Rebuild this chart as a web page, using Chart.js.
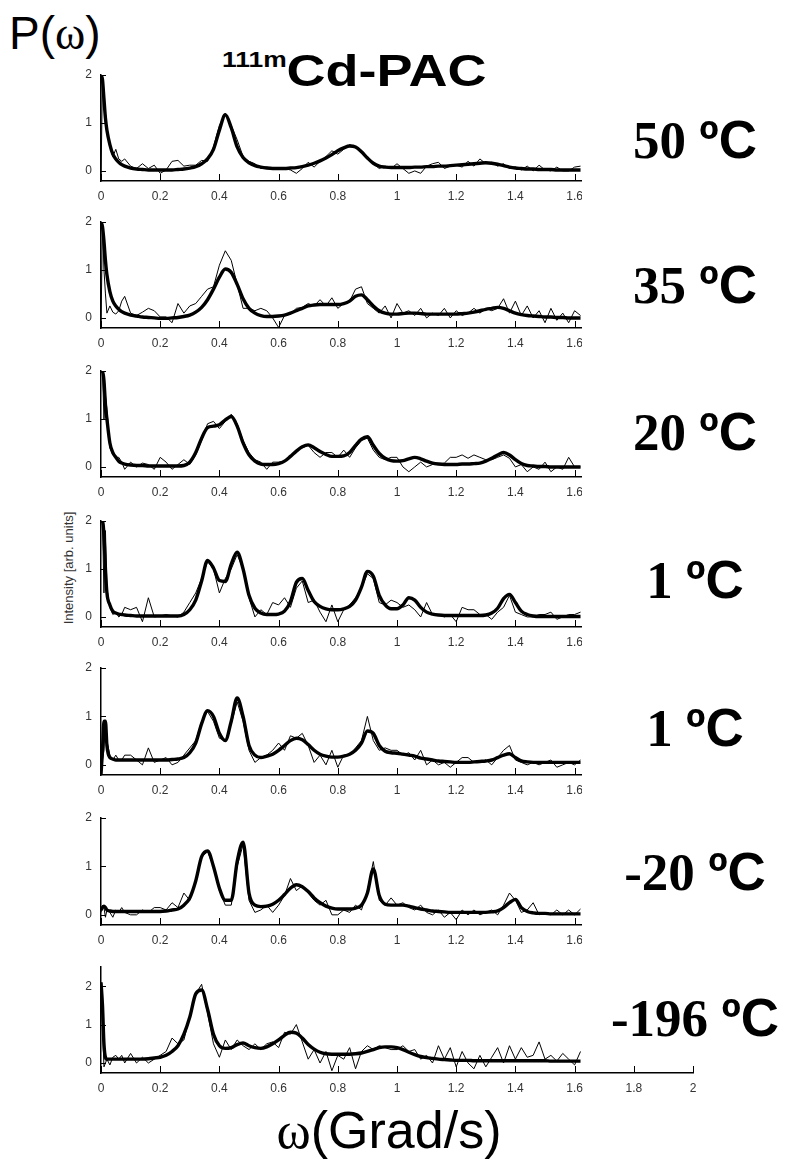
<!DOCTYPE html>
<html>
<head>
<meta charset="utf-8">
<script src="https://cdn.jsdelivr.net/npm/chart.js@4.4.0/dist/chart.umd.min.js"></script>
<style>
  body { margin: 0; background: #fff; }
  #page { position: relative; width: 789px; height: 1161px; overflow: hidden; background: #fff; font-family: 'Liberation Sans', Arial, sans-serif; color: #000; }
  #page canvas { position: absolute; }
  .serif { font-family: 'Liberation Serif', 'Times New Roman', serif; }
  #pw { position: absolute; left: 9px; top: 10px; font-size: 46px; line-height: 1; }
  #title { position: absolute; left: 222px; top: 48px; font-weight: bold; line-height: 1; white-space: nowrap; transform: scaleX(1.2); transform-origin: left top; }
  #title sup { font-size: 22px; vertical-align: 19px; }
  #title .big { font-size: 45px; }
  #xlabel { position: absolute; left: 0; width: 778px; top: 1104px; text-align: center; font-size: 52px; line-height: 1; }
  #ylabel { position: absolute; left: 68px; top: 568px; font-size: 13px; color: #333; white-space: nowrap; transform: translate(-50%, -50%) rotate(-90deg); }
  .temp { position: absolute; left: 585px; width: 220px; text-align: center; font: bold 53px 'Liberation Serif', 'Times New Roman', serif; line-height: 53px; white-space: nowrap; }
  .temp span { font-family: 'Liberation Sans', Arial, sans-serif; }
</style>
</head>
<body>
<div id="page">
  <div id="pw">P(<span class="serif">ω</span>)</div>
  <div id="title"><sup>111m</sup><span class="big">Cd-PAC</span></div>
  <div id="ylabel">Intensity [arb. units]</div>
  <div id="xlabel"><span class="serif">ω</span>(Grad/s)</div>
</div>
<script>
// omega grid (Grad/s), shared by every panel
const omega = [0, 0.005, 0.01, 0.015, 0.02, 0.03, 0.04, 0.05, 0.06, 0.07, 0.08,
  0.10, 0.12, 0.14, 0.16, 0.18, 0.20, 0.22, 0.24, 0.26, 0.28,
  0.30, 0.32, 0.34, 0.36, 0.38, 0.40, 0.42, 0.44, 0.46, 0.48,
  0.50, 0.52, 0.54, 0.56, 0.58, 0.60, 0.62, 0.64, 0.66, 0.68,
  0.70, 0.72, 0.74, 0.76, 0.78, 0.80, 0.82, 0.84, 0.86, 0.88,
  0.90, 0.92, 0.94, 0.96, 0.98, 1.00, 1.02, 1.04, 1.06, 1.08,
  1.10, 1.12, 1.14, 1.16, 1.18, 1.20, 1.22, 1.24, 1.26, 1.28,
  1.30, 1.32, 1.34, 1.36, 1.38, 1.40, 1.42, 1.44, 1.46, 1.48,
  1.50, 1.52, 1.54, 1.56, 1.58, 1.60, 1.62];

const temps = ['50', '35', '20', '1', '1', '-20', '-196'];
const xTickStep = 0.2;
const yTicks = [0, 1, 2];

// 50 C
const fit50 = [2.0, 1.9, 1.5, 1.1, 0.85, 0.55, 0.35, 0.25, 0.18, 0.13, 0.10,
  0.06, 0.04, 0.03, 0.02, 0.02, 0.02, 0.02, 0.02, 0.03, 0.04,
  0.06, 0.09, 0.15, 0.25, 0.45, 0.85, 1.17, 0.90, 0.50, 0.28,
  0.17, 0.11, 0.08, 0.06, 0.05, 0.05, 0.05, 0.06, 0.07, 0.09,
  0.12, 0.16, 0.21, 0.27, 0.34, 0.42, 0.48, 0.52, 0.50, 0.40,
  0.27, 0.16, 0.10, 0.08, 0.07, 0.07, 0.07, 0.07, 0.08, 0.08,
  0.09, 0.09, 0.10, 0.10, 0.11, 0.12, 0.13, 0.14, 0.15, 0.16,
  0.17, 0.16, 0.14, 0.11, 0.08, 0.06, 0.05, 0.04, 0.04, 0.03,
  0.03, 0.03, 0.02, 0.02, 0.02, 0.02, 0.02];
const data50 = [-0.2, 2.0, 1.6, 1.2, 0.9, 0.5, 0.3, 0.45, 0.25, 0.2, 0.25,
  0.10, 0.05, 0.15, 0.05, 0.12, -0.05, 0.02, 0.20, 0.22, 0.10,
  0.12, 0.12, 0.22, 0.20, 0.50, 0.95, 1.20, 0.95, 0.65, 0.30,
  0.20, 0.15, 0.05, 0.08, 0.04, 0.05, 0.05, 0.02, -0.05, 0.05,
  0.18, 0.08, 0.20, 0.30, 0.42, 0.35, 0.45, 0.55, 0.50, 0.38,
  0.30, 0.15, 0.05, 0.10, 0.05, 0.15, 0.05, -0.05, 0.00, -0.05,
  0.10, 0.15, 0.18, 0.05, 0.10, 0.12, 0.08, 0.20, 0.10, 0.25,
  0.15, 0.18, 0.10, 0.15, 0.05, 0.08, 0.02, 0.10, 0.00, 0.12,
  0.02, 0.00, 0.08, 0.00, 0.00, 0.08, 0.10];

// 35 C
const fit35 = [2.0, 1.9, 1.6, 1.2, 0.9, 0.55, 0.35, 0.25, 0.18, 0.13, 0.10,
  0.06, 0.04, 0.02, 0.01, 0.00, -0.01, -0.01, 0.00, 0.01, 0.03,
  0.06, 0.12, 0.22, 0.38, 0.60, 0.85, 1.02, 0.95, 0.70, 0.40,
  0.20, 0.10, 0.05, 0.03, 0.03, 0.04, 0.06, 0.10, 0.15, 0.20,
  0.25, 0.27, 0.28, 0.28, 0.28, 0.28, 0.30, 0.35, 0.45, 0.48,
  0.38, 0.25, 0.15, 0.10, 0.08, 0.08, 0.09, 0.10, 0.10, 0.09,
  0.08, 0.08, 0.08, 0.08, 0.08, 0.08, 0.09, 0.10, 0.12, 0.15,
  0.18, 0.20, 0.22, 0.20, 0.15, 0.10, 0.07, 0.05, 0.04, 0.03,
  0.02, 0.02, 0.01, 0.01, 0.00, 0.00, 0.00];
const data35 = [-0.2, 2.0, 1.0, 0.5, 0.1, 0.25, 0.12, 0.08, 0.15, 0.35, 0.45,
  0.10, 0.05, 0.12, 0.20, 0.15, 0.02, 0.02, -0.10, 0.30, 0.10,
  0.25, 0.30, 0.45, 0.60, 0.65, 1.10, 1.40, 1.20, 0.70, 0.20,
  0.20, 0.15, 0.20, 0.15, 0.00, -0.20, 0.05, 0.08, 0.20, 0.22,
  0.30, 0.25, 0.38, 0.25, 0.42, 0.20, 0.30, 0.35, 0.60, 0.65,
  0.30, 0.20, 0.10, 0.25, 0.00, 0.30, 0.10, 0.15, 0.05, 0.20,
  0.00, 0.10, 0.05, 0.20, 0.00, 0.15, 0.05, 0.10, 0.20, 0.10,
  0.20, 0.15, 0.20, 0.40, 0.10, 0.35, 0.05, 0.25, 0.00, 0.15,
  -0.10, 0.20, -0.05, 0.10, -0.10, 0.15, 0.05];

// 20 C
const fit20 = [2.0, 2.0, 1.8, 1.3, 1.0, 0.5, 0.3, 0.2, 0.12, 0.08, 0.06,
  0.04, 0.03, 0.03, 0.02, 0.02, 0.02, 0.02, 0.02, 0.02, 0.03,
  0.10, 0.30, 0.60, 0.82, 0.85, 0.88, 0.98, 1.05, 0.85, 0.50,
  0.25, 0.12, 0.06, 0.05, 0.05, 0.07, 0.12, 0.22, 0.33, 0.42,
  0.46, 0.40, 0.32, 0.26, 0.22, 0.22, 0.23, 0.30, 0.45, 0.58,
  0.63, 0.45, 0.28, 0.18, 0.13, 0.12, 0.13, 0.17, 0.20, 0.17,
  0.12, 0.08, 0.06, 0.05, 0.05, 0.05, 0.06, 0.06, 0.07, 0.08,
  0.12, 0.18, 0.25, 0.30, 0.25, 0.15, 0.07, 0.03, 0.02, 0.01,
  0.01, 0.00, 0.00, 0.00, 0.00, 0.00, 0.00];
const data20 = [2.0, 2.0, 1.0, 1.5, 1.2, 0.4, 0.25, 0.2, 0.2, 0.1, -0.05,
  0.10, 0.00, 0.08, 0.05, -0.05, 0.20, 0.10, -0.05, 0.05, 0.15,
  0.05, 0.25, 0.55, 0.90, 0.95, 0.80, 0.95, 1.10, 0.90, 0.55,
  0.30, 0.15, 0.10, -0.05, 0.10, 0.10, 0.12, 0.20, 0.35, 0.40,
  0.45, 0.30, 0.20, 0.30, 0.30, 0.20, 0.35, 0.20, 0.40, 0.55,
  0.60, 0.35, 0.20, 0.15, 0.20, 0.20, 0.00, -0.10, 0.00, 0.10,
  0.00, 0.05, 0.05, 0.08, 0.20, 0.20, 0.25, 0.18, 0.25, 0.20,
  0.15, 0.15, 0.20, 0.25, 0.18, 0.00, 0.05, -0.10, 0.00, -0.05,
  0.10, -0.10, 0.00, -0.05, 0.20, 0.00, 0.00];

// 1 C (upper)
const fit1a = [2.0, 2.0, 1.7, 1.0, 0.5, 0.25, 0.12, 0.08, 0.06, 0.05, 0.04,
  0.03, 0.02, 0.02, 0.02, 0.02, 0.02, 0.02, 0.02, 0.02, 0.05,
  0.15, 0.35, 0.75, 1.18, 1.02, 0.76, 0.74, 1.10, 1.35, 1.00,
  0.45, 0.18, 0.08, 0.05, 0.05, 0.06, 0.12, 0.32, 0.72, 0.80,
  0.55, 0.32, 0.22, 0.17, 0.15, 0.15, 0.17, 0.22, 0.35, 0.62,
  0.95, 0.85, 0.45, 0.25, 0.17, 0.17, 0.25, 0.40, 0.35, 0.20,
  0.10, 0.06, 0.04, 0.03, 0.03, 0.03, 0.03, 0.03, 0.03, 0.03,
  0.04, 0.08, 0.18, 0.38, 0.47, 0.30, 0.12, 0.05, 0.02, 0.01,
  0.01, 0.01, 0.01, 0.01, 0.01, 0.01, 0.01];
const data1a = [2.0, 2.0, 0.5, 1.8, 0.6, 0.2, 0.05, 0.1, 0.0, 0.05, 0.2,
  0.15, 0.20, -0.10, 0.40, 0.00, 0.02, 0.05, 0.02, 0.00, 0.10,
  0.30, 0.50, 0.80, 1.15, 1.00, 0.50, 0.80, 1.00, 1.30, 1.00,
  0.40, 0.00, 0.15, 0.05, 0.30, 0.25, 0.40, 0.20, 0.60, 0.75,
  0.30, 0.35, 0.10, -0.10, 0.25, -0.10, 0.15, 0.25, 0.40, 0.60,
  0.90, 0.80, 0.30, 0.25, 0.35, 0.30, 0.20, 0.25, 0.15, 0.00,
  0.30, 0.05, 0.05, 0.00, 0.05, -0.10, 0.20, 0.15, 0.15, 0.05,
  0.05, -0.05, 0.10, 0.20, 0.45, 0.10, 0.05, 0.00, 0.00, 0.05,
  0.05, 0.10, -0.05, 0.00, 0.05, 0.05, 0.10];

// 1 C (lower)
const fit1b = [-0.2, 0.3, 0.9, 0.9, 0.4, 0.15, 0.12, 0.10, 0.10, 0.10, 0.10,
  0.10, 0.10, 0.10, 0.10, 0.10, 0.10, 0.10, 0.11, 0.12, 0.15,
  0.25, 0.45, 0.85, 1.12, 1.00, 0.65, 0.50, 0.90, 1.38, 1.00,
  0.40, 0.20, 0.15, 0.18, 0.22, 0.30, 0.40, 0.50, 0.55, 0.52,
  0.42, 0.30, 0.22, 0.18, 0.16, 0.16, 0.18, 0.22, 0.30, 0.45,
  0.70, 0.65, 0.40, 0.28, 0.25, 0.24, 0.22, 0.20, 0.18, 0.14,
  0.12, 0.10, 0.08, 0.07, 0.06, 0.05, 0.05, 0.05, 0.06, 0.07,
  0.08, 0.10, 0.15, 0.20, 0.23, 0.15, 0.08, 0.06, 0.05, 0.05,
  0.05, 0.05, 0.05, 0.05, 0.05, 0.05, 0.05];
const data1b = [-0.2, 0.1, 0.3, 0.9, 0.5, 0.2, 0.1, 0.2, 0.1, 0.1, 0.2,
  0.20, 0.10, 0.00, 0.35, 0.05, 0.10, 0.15, 0.00, 0.05, 0.20,
  0.35, 0.50, 0.90, 1.10, 0.90, 0.55, 0.50, 0.85, 1.30, 0.90,
  0.30, 0.05, 0.15, 0.20, 0.30, 0.45, 0.30, 0.60, 0.55, 0.65,
  0.40, 0.05, 0.20, 0.00, 0.30, -0.05, 0.20, 0.20, 0.35, 0.50,
  1.00, 0.50, 0.30, 0.35, 0.30, 0.30, 0.20, 0.25, 0.10, 0.30,
  0.00, 0.10, 0.00, 0.05, -0.05, 0.05, 0.15, 0.15, 0.05, 0.05,
  0.10, 0.00, 0.15, 0.30, 0.40, 0.10, 0.05, 0.00, 0.05, 0.00,
  0.05, 0.10, -0.05, 0.00, 0.05, 0.00, 0.10];

// -20 C
const fitm20 = [0.10, 0.15, 0.18, 0.15, 0.10, 0.08, 0.07, 0.07, 0.07, 0.07, 0.07,
  0.07, 0.07, 0.07, 0.07, 0.07, 0.07, 0.08, 0.10, 0.12, 0.20,
  0.35, 0.70, 1.20, 1.32, 1.00, 0.55, 0.30, 0.30, 1.10, 1.50,
  0.45, 0.20, 0.17, 0.18, 0.22, 0.30, 0.42, 0.55, 0.62, 0.58,
  0.48, 0.35, 0.25, 0.18, 0.14, 0.12, 0.12, 0.12, 0.14, 0.20,
  0.45, 0.95, 0.40, 0.22, 0.20, 0.20, 0.20, 0.18, 0.15, 0.12,
  0.10, 0.08, 0.07, 0.06, 0.05, 0.05, 0.05, 0.05, 0.05, 0.05,
  0.05, 0.06, 0.08, 0.15, 0.25, 0.32, 0.15, 0.07, 0.04, 0.03,
  0.03, 0.02, 0.02, 0.02, 0.02, 0.02, 0.02];
const datam20 = [0.05, 0.20, 0.15, -0.05, 0.10, 0.05, -0.05, 0.10, 0.05, 0.15, 0.05,
  0.00, 0.00, 0.10, 0.05, 0.15, 0.15, 0.10, 0.25, 0.15, 0.45,
  0.30, 0.70, 1.20, 1.30, 1.00, 0.50, 0.20, 0.20, 1.00, 1.45,
  0.30, 0.05, 0.10, 0.20, 0.05, 0.20, 0.40, 0.75, 0.50, 0.60,
  0.45, 0.30, 0.20, 0.30, 0.00, 0.00, 0.10, 0.05, 0.20, 0.10,
  0.50, 1.10, 0.30, 0.20, 0.35, 0.20, 0.25, 0.15, 0.10, 0.20,
  0.05, 0.00, 0.10, -0.05, 0.05, -0.10, 0.10, 0.00, 0.10, 0.00,
  0.05, 0.10, 0.00, 0.20, 0.45, 0.30, 0.05, 0.10, 0.25, 0.00,
  0.05, 0.00, 0.10, 0.00, 0.10, 0.00, 0.12];

// -196 C
const fitm196 = [2.10, 1.50, 0.50, 0.15, 0.10, 0.10, 0.10, 0.10, 0.10, 0.10, 0.10,
  0.10, 0.10, 0.10, 0.11, 0.13, 0.15, 0.20, 0.30, 0.45, 0.75,
  1.20, 1.80, 1.90, 1.40, 0.75, 0.45, 0.38, 0.40, 0.48, 0.52,
  0.45, 0.40, 0.38, 0.42, 0.50, 0.60, 0.72, 0.80, 0.78, 0.65,
  0.48, 0.36, 0.28, 0.24, 0.23, 0.23, 0.23, 0.23, 0.24, 0.26,
  0.30, 0.35, 0.40, 0.42, 0.42, 0.40, 0.35, 0.28, 0.22, 0.17,
  0.14, 0.12, 0.10, 0.09, 0.08, 0.07, 0.07, 0.07, 0.06, 0.06,
  0.06, 0.06, 0.06, 0.06, 0.06, 0.06, 0.06, 0.06, 0.06, 0.06,
  0.06, 0.05, 0.05, 0.05, 0.05, 0.05, 0.05];
const datam196 = [2.10, 1.00, -0.10, 0.00, 0.10, -0.05, 0.15, 0.20, 0.10, 0.20, 0.00,
  0.25, 0.00, 0.15, 0.00, 0.10, 0.20, 0.30, 0.65, 0.50, 0.60,
  1.20, 1.80, 2.05, 1.30, 0.50, 0.15, 0.60, 0.35, 0.60, 0.45,
  0.35, 0.50, 0.35, 0.50, 0.55, 0.40, 0.80, 0.75, 1.00, 0.55,
  0.10, 0.35, 0.00, 0.30, -0.20, 0.20, 0.10, 0.40, -0.15, 0.30,
  0.45, 0.35, 0.45, 0.40, 0.35, 0.35, 0.45, 0.30, 0.35, 0.10,
  0.20, 0.00, 0.45, 0.10, 0.40, -0.10, 0.30, 0.00, -0.15, 0.20,
  -0.10, 0.15, 0.40, 0.00, 0.45, 0.10, 0.40, 0.15, 0.20, 0.55,
  0.10, 0.20, 0.05, 0.25, 0.10, -0.05, 0.30];

const fits = [fit50, fit35, fit20, fit1a, fit1b, fitm20, fitm196];
const measured = [data50, data35, data20, data1a, data1b, datam20, datam196];

// page placement of each panel (pixel rows of the y top / x axis)
const layout = [
  { top: 75,  bottom: 181,  ymin: -0.21, ymax: 2,   xmax: 1.625, labelY: 140 },
  { top: 222, bottom: 328,  ymin: -0.21, ymax: 2,   xmax: 1.625, labelY: 285 },
  { top: 371, bottom: 477,  ymin: -0.21, ymax: 2,   xmax: 1.625, labelY: 432 },
  { top: 521, bottom: 627,  ymin: -0.21, ymax: 2,   xmax: 1.625, labelY: 580 },
  { top: 668, bottom: 775,  ymin: -0.21, ymax: 2,   xmax: 1.625, labelY: 728 },
  { top: 818, bottom: 925,  ymin: -0.21, ymax: 2,   xmax: 1.625, labelY: 872 },
  { top: 967, bottom: 1073, ymin: -0.26, ymax: 2.5, xmax: 2,     labelY: 1018 }
];

Chart.defaults.font.family = "'Liberation Sans', Arial, sans-serif";
Chart.defaults.color = '#333';

// ticks pointing into the plot, like the original figure
const innerTicks = {
  id: 'innerTicks',
  afterDatasetsDraw(chart) {
    const { ctx, chartArea, scales: { x, y } } = chart;
    ctx.save();
    ctx.strokeStyle = '#000';
    ctx.lineWidth = 1;
    ctx.beginPath();
    x.ticks.forEach(t => {
      const px = Math.round(x.getPixelForValue(t.value)) + 0.5;
      ctx.moveTo(px, chartArea.bottom);
      ctx.lineTo(px, chartArea.bottom - 7);
    });
    y.ticks.forEach(t => {
      const py = Math.round(y.getPixelForValue(t.value)) + 0.5;
      ctx.moveTo(chartArea.left, py);
      ctx.lineTo(chartArea.left + 5, py);
    });
    ctx.stroke();
    ctx.restore();
  }
};

const page = document.getElementById('page');
const canvasLeft = 70;
const yAxisWidth = 31;
const xAxisHeight = 24;
const padTop = 10;

layout.forEach((p, i) => {
  const padRight = p.xmax === 2 ? 10 : 0;
  const plotWidth = Math.round(p.xmax * 296);
  const canvas = document.createElement('canvas');
  const w = yAxisWidth + plotWidth + padRight;
  const h = p.bottom - p.top + padTop + xAxisHeight;
  canvas.width = w;
  canvas.height = h;
  canvas.style.left = canvasLeft + 'px';
  canvas.style.top = (p.top - padTop) + 'px';
  canvas.style.width = w + 'px';
  canvas.style.height = h + 'px';
  page.appendChild(canvas);

  const label = document.createElement('div');
  label.className = 'temp';
  label.style.top = (p.labelY - 27) + 'px';
  label.innerHTML = temps[i] + ' <span>ºC</span>';
  page.appendChild(label);

  new Chart(canvas.getContext('2d'), {
    type: 'line',
    data: {
      datasets: [{
        label: 'fit',
        data: omega.map((w, k) => ({ x: w, y: fits[i][k] })),
        borderColor: '#000',
        borderWidth: 3.4,
        cubicInterpolationMode: 'monotone',
        pointRadius: 0,
        order: 0
      }, {
        label: 'data',
        data: omega.map((w, k) => ({ x: w, y: measured[i][k] })),
        borderColor: '#000',
        borderWidth: 1,
        tension: 0,
        pointRadius: 0,
        order: 1
      }]
    },
    options: {
      responsive: false,
      animation: false,
      devicePixelRatio: 1,
      layout: { padding: { top: padTop, left: 0, right: padRight, bottom: 0 } },
      plugins: { legend: { display: false }, tooltip: { enabled: false } },
      scales: {
        x: {
          type: 'linear',
          min: 0,
          max: p.xmax,
          grid: { display: false, drawTicks: false, tickLength: 0 },
          border: { display: true, color: '#000', width: 1.5 },
          ticks: {
            stepSize: xTickStep,
            includeBounds: false,
            autoSkip: false,
            maxRotation: 0,
            padding: 8,
            color: '#333',
            font: { size: 12 },
            callback: v => String(Math.round(v * 10) / 10)
          },
          afterFit: s => { s.height = xAxisHeight; s.paddingLeft = 0; s.paddingRight = 0; }
        },
        y: {
          min: p.ymin,
          max: p.ymax,
          grid: { display: false, drawTicks: false, tickLength: 0 },
          border: { display: true, color: '#000', width: 1.5 },
          afterBuildTicks: s => { s.ticks = yTicks.map(v => ({ value: v })); },
          ticks: {
            padding: 9,
            color: '#333',
            font: { size: 12 },
            callback: v => String(v)
          },
          afterFit: s => { s.width = yAxisWidth; s.paddingTop = 0; s.paddingBottom = 0; }
        }
      }
    },
    plugins: [innerTicks]
  });
});
</script>
</body>
</html>
